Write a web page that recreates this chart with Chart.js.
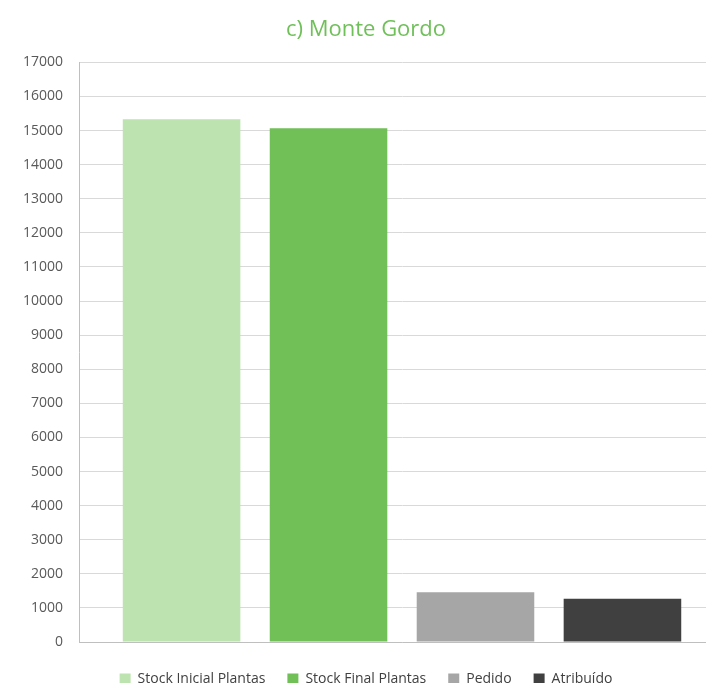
<!DOCTYPE html>
<html>
<head>
<meta charset="utf-8">
<script src="https://cdn.jsdelivr.net/npm/chart.js@4"></script>
<style>
  html, body { margin: 0; padding: 0; overflow: hidden; background: #fff; }
  #wrap { width: 725px; height: 683px; }
</style>
</head>
<body>
<div id="wrap"><canvas id="myChart"></canvas></div>
<script>
// data
const categories = ['Monte Gordo'];
const seriesNames = ['Stock Inicial Plantas', 'Stock Final Plantas', 'Pedido', 'Atribuído'];
const seriesValues = [15330, 15070, 1460, 1270];
const seriesColors = ['#bde3b1', '#71bf57', '#a6a6a6', '#404040'];

const ctx = document.getElementById('myChart');

new Chart(ctx, {
    type: 'bar',
    data: {
        labels: categories,
        datasets: seriesNames.map((name, i) => ({
            label: name,
            data: [seriesValues[i]],
            backgroundColor: seriesColors[i],
            borderWidth: 0
        }))
    },
    options: {
        responsive: true,
        maintainAspectRatio: false,
        animation: false,
        categoryPercentage: 0.91,
        barPercentage: 0.8,
        layout: { padding: { left: 7, right: 0, top: 13, bottom: -13 } },
        plugins: {
            title: {
                display: true,
                text: 'c) Monte Gordo',
                color: '#70c05a',
                font: { family: 'Open Sans', size: 22, weight: 'normal' },
                padding: { top: 4, bottom: 19 }
            },
            legend: {
                position: 'bottom',
                labels: {
                    boxWidth: 11,
                    boxHeight: 11,
                    padding: 22,
                    color: '#404040',
                    font: { family: 'Open Sans', size: 14 }
                }
            },
            tooltip: { enabled: false }
        },
        scales: {
            x: {
                grid: { display: false },
                border: { color: '#bfbfbf', width: 1 },
                ticks: { display: false }
            },
            y: {
                min: 0,
                max: 17000,
                ticks: {
                    stepSize: 1000,
                    color: '#595959',
                    padding: 16,
                    font: { family: 'Open Sans', size: 14 },
                    callback: (v) => String(v)
                },
                grid: { color: '#d9d9d9', drawTicks: false },
                border: { color: '#bfbfbf', width: 1 }
            }
        }
    }
});
</script>
</body>
</html>
